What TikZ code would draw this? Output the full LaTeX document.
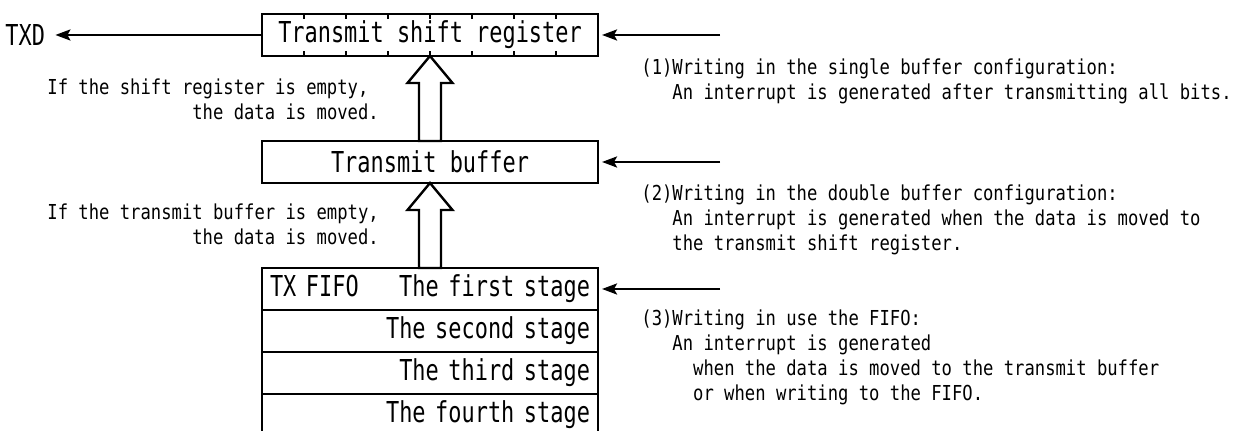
\documentclass[tikz,border=0pt]{standalone}
\usepackage{fontspec}
\newfontfamily\gothic[FakeStretch=0.761]{DejaVu Sans Mono}
\newfontfamily\gothicnote[FakeStretch=0.835]{DejaVu Sans Mono}
\usetikzlibrary{arrows.meta, calc, positioning}

\newlength{\chw}
\newcommand{\indentch}[1]{\settowidth{\chw}{0}\hspace*{#1\chw}}
\newcommand{\notefont}{\gothicnote\fontsize{10.3}{12.5}\selectfont
  \setlength{\lineskiplimit}{-20pt}}

\tikzset{
  regbox/.style={draw, line width=1.4pt, inner sep=0pt, outer sep=0pt,
    minimum width=168pt, minimum height=21pt,
    font=\gothic\fontsize{14.4}{17}\selectfont},
  fiforow/.style={regbox, text width=160pt, align=right},
  note/.style={inner sep=0pt, anchor=north west, align=left, font=\notefont},
  wire/.style={line width=1.25pt, shorten >=2pt,
    -{Stealth[length=7.5pt, width=5.5pt, inset=1.5pt]}},
  fatarrow/.style={line width=1.2pt, fill=white, line join=miter},
  tick/.style={line width=1.2pt},
}

\begin{document}
\begin{tikzpicture}[x=0.5pt, y=0.5pt]
  \useasboundingbox (0,0) rectangle (1237,431);
  \clip (0,0) rectangle (1237,431);

  % registers
  \node[regbox] (tsr) at (430,396) {Transmit shift register};
  \node[regbox, below=42.5pt of tsr] (tb) {Transmit buffer};
  \node[fiforow, below=42.5pt of tb] (f1) {TX FIFO\hfill The first stage};
  \node[fiforow, below=0pt of f1] (f2) {The second stage};
  \node[fiforow, below=0pt of f2] (f3) {The third stage};
  \node[fiforow, draw=none, below=0pt of f3] (f4) {The fourth stage};
  \draw[line width=1.4pt] (f4.north west) -- ++(0,-80) (f4.north east) -- ++(0,-80);

  % bit cells
  \foreach \k in {1,...,7} {
    \draw[tick] ($(tsr.north west)!\k/8!(tsr.north east)$) -- ++(0,-5);
    \draw[tick] ($(tsr.south west)!\k/8!(tsr.south east)$) -- ++(0,5);
  }

  % data moves up
  \draw[fatarrow] (tsr.south) -- ++(22.5,-27) -- ++(-11.5,0) -- ($(tb.north)+(11,0)$)
    -- ($(tb.north)+(-11,0)$) |- ($(tsr.south)+(-22.5,-27)$) -- cycle;
  \draw[fatarrow] (tb.south) -- ++(22.5,-27) -- ++(-11.5,0) -- ($(f1.north)+(11,0)$)
    -- ($(f1.north)+(-11,0)$) |- ($(tb.south)+(-22.5,-27)$) -- cycle;

  % output
  \node[font=\gothic\fontsize{14.4}{17}\selectfont, inner xsep=3pt, inner ysep=0pt,
    anchor=west] (txd) at (-1,396) {TXD};
  \draw[wire] (tsr.west) -- (txd.east);

  % writes
  \coordinate (w1) at ($(tsr.east)+(122,0)$);
  \coordinate (w2) at ($(tb.east)+(122,0)$);
  \coordinate (w3) at ($(f1.east)+(122,0)$);
  \draw[wire] (w1) -- (tsr.east);
  \draw[wire] (w2) -- (tb.east);
  \draw[wire] (w3) -- (f1.east);

  % notes
  \node[note] (m1) at (47,352.5) {If the shift register is empty,\\
    \indentch{14}the data is moved.};
  \node[note] (m2) at (47,227.5) {If the transmit buffer is empty,\\
    \indentch{14}the data is moved.};
  \node[note] (c1) at (641,372.5) {(1)Writing in the single buffer configuration:\\
    \indentch{3}An interrupt is generated after transmitting all bits.};
  \node[note] (c2) at (641,246.5) {(2)Writing in the double buffer configuration:\\
    \indentch{3}An interrupt is generated when the data is moved to\\
    \indentch{3}the transmit shift register.};
  \node[note] (c3) at (641,121.5) {(3)Writing in use the FIFO:\\
    \indentch{3}An interrupt is generated\\
    \indentch{5}when the data is moved to the transmit buffer\\
    \indentch{5}or when writing to the FIFO.};
\end{tikzpicture}
\end{document}
